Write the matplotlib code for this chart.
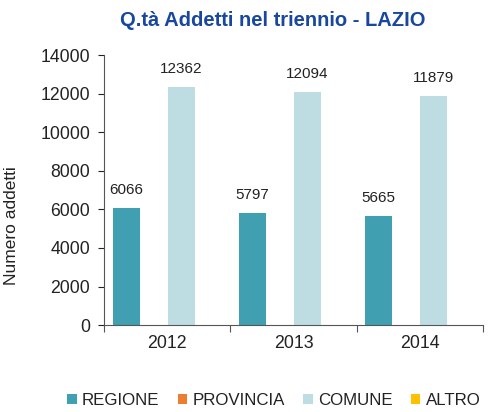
import matplotlib
matplotlib.use("Agg")
import matplotlib.pyplot as plt
import numpy as np

years = ["2012", "2013", "2014"]
series = ["REGIONE", "PROVINCIA", "COMUNE", "ALTRO"]
regione = [6066, 5797, 5665]
provincia = [0, 0, 0]
comune = [12362, 12094, 11879]
altro = [0, 0, 0]
colors = ["#409FB0", "#ED7D31", "#BEDDE3", "#FFC000"]

plt.rcParams['font.family'] = ['Liberation Sans', 'DejaVu Sans']

fig = plt.figure(figsize=(4.89, 4.12), dpi=100)
ax = fig.add_axes([0.213, 0.211, 0.775, 0.655])

x = np.arange(len(years))
w = 0.218
data = [regione, provincia, comune, altro]
for i, (name, vals, c) in enumerate(zip(series, data, colors)):
    pos = x - 1.5 * w + i * w
    bars = ax.bar(pos, vals, width=w * 0.98, color=c, label=name)
    if name in ("REGIONE", "COMUNE"):
        for p, v in zip(pos, vals):
            ax.annotate(str(v), (p, v), xytext=(0, 8), textcoords="offset points",
                        ha="center", va="bottom", fontsize=11, color="#222222")

ax.set_xlim(-0.5, 2.5)
ax.set_ylim(0, 14000)
ax.set_yticks(range(0, 14001, 2000))
ax.tick_params(axis='y', direction='out', length=4, labelsize=12.7, colors='#222222', width=0.8, pad=6)
ax.set_xticks([-0.5, 0.5, 1.5, 2.5])
ax.set_xticklabels([])
ax.set_xticks(x, minor=True)
ax.set_xticklabels(years, minor=True)
ax.tick_params(axis='x', which='major', direction='out', length=5, width=0.8, color='#555555')
ax.tick_params(axis='x', which='minor', length=0, labelsize=12.8, pad=7, labelcolor='#222222')
for s in ("top", "right"):
    ax.spines[s].set_visible(False)
for s in ("left", "bottom"):
    ax.spines[s].set_color('#555555')
    ax.spines[s].set_linewidth(0.8)

ax.set_ylabel("Numero addetti", fontsize=12.5, color='#222222')
ax.yaxis.set_label_coords(-0.225, 0.37)
fig.text(0.557, 0.95, "Q.tà Addetti nel triennio - LAZIO", ha="center", va="center",
         fontsize=14.5, fontweight="bold", color="#17479E")

leg = fig.legend(loc="center", bbox_to_anchor=(0.56, 0.027), ncol=4, frameon=False,
                 fontsize=12.2, handlelength=0.55, handleheight=0.55, handletextpad=0.3,
                 columnspacing=1.1, borderaxespad=0)
for t in leg.get_texts():
    t.set_color('#222222')

fig.savefig("out.png", dpi=100)
